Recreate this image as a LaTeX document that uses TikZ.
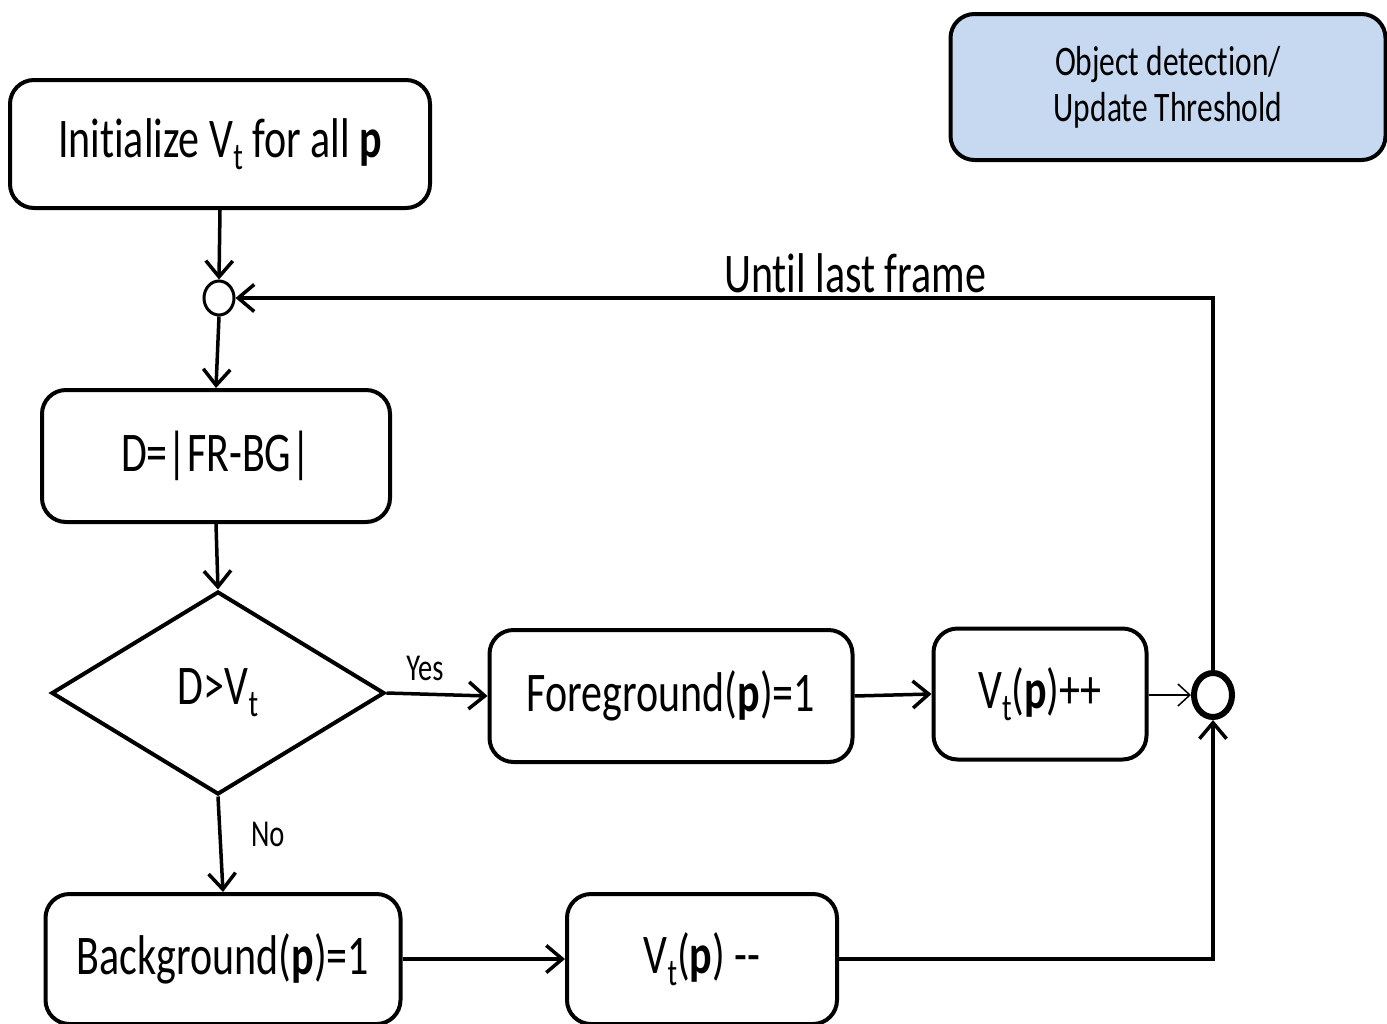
\documentclass[tikz,border=0pt]{standalone}
\usepackage{fontspec}
\setmainfont[FakeStretch=0.75, Ligatures={NoCommon,NoContextual,NoRare}, Contextuals=NoAlternate]{Carlito}
\usetikzlibrary{shapes.geometric,arrows.meta}
\definecolor{detectblue}{RGB}{198,217,241}
\newcommand{\lowsub}[1]{\raisebox{-0.22em}{\scalebox{0.68}{#1}}}
\newcommand{\ti}{t\kern0pt i}
\tikzset{
  stepbox/.style={draw, line width=4pt, rounded corners=24pt, align=center},
  flow/.style={->, line width=3.5pt},
  joint/.style={draw, ellipse, fill=white, inner sep=0pt},
}

\begin{document}
\begin{tikzpicture}[x=1pt,y=-1pt,>={Straight Barb[length=16pt,width=27pt]},font=\fontsize{56}{60}\selectfont]
\useasboundingbox (0,0) rectangle (1387,1023);
% boxes
\node[stepbox, minimum width=420pt, minimum height=128pt] (init) at (220,144) {Ini\ti alize V\lowsub{t} for all \textbf{p}};
\node[joint, line width=3pt, minimum width=30pt, minimum height=34pt] (c1) at (219,298) {};
\node[stepbox, minimum width=348pt, minimum height=132pt] (diff) at (216,456) {D=|FR-BG|};
\node[diamond, draw, line width=4pt, minimum width=333pt, minimum height=203pt] (test) at (218,693) {D>V\lowsub{t}};
\node[stepbox, minimum width=363pt, minimum height=132pt] (fg) at (671,696) {Foreground(\textbf{p})=1};
\node[stepbox, minimum width=213pt, minimum height=131pt] (inc) at (1040,694) {V\lowsub{t}(\textbf{p})++};
\node[joint, line width=6pt, minimum width=38pt, minimum height=44pt] (c2) at (1213,695) {};
\node[stepbox, minimum width=355pt, minimum height=130pt] (bg) at (223,959) {Background(\textbf{p})=1};
\node[stepbox, minimum width=270pt, minimum height=130pt] (dec) at (702,959) {V\lowsub{t}(\textbf{p}) -{}-};
\node[stepbox, fill=detectblue, minimum width=435pt, minimum height=146pt, font=\fontsize{42}{46}\selectfont] (legend) at (1168,87) {Object detec\ti on/\\Update Threshold};
% connectors
\draw[flow] (init.south) -- (c1.north);
\draw[flow] (c1.south) -- (diff.north);
\draw[flow] (diff.south) -- (test.north);
\draw[flow] (test.east) -- node[above=8pt, pos=0.38, font=\fontsize{38}{40}\selectfont] {Yes} (fg.west);
\draw[flow] (fg.east) -- (inc.west);
\draw[->, line width=1.5pt, >={Straight Barb[length=12pt,width=22pt]}] (inc.east |- c2.west) -- (c2.west);
\draw[flow] (test.south) -- node[right=26pt, pos=0.4, font=\fontsize{38}{40}\selectfont] {No} (bg.north);
\draw[flow] (bg.east) -- (dec.west);
\draw[flow] (dec.east) -| (c2.south);
\draw[flow] (c2.north) |- node[above, pos=0.683, inner sep=3pt] {Un\ti l last frame} (c1.east);
\end{tikzpicture}
\end{document}
